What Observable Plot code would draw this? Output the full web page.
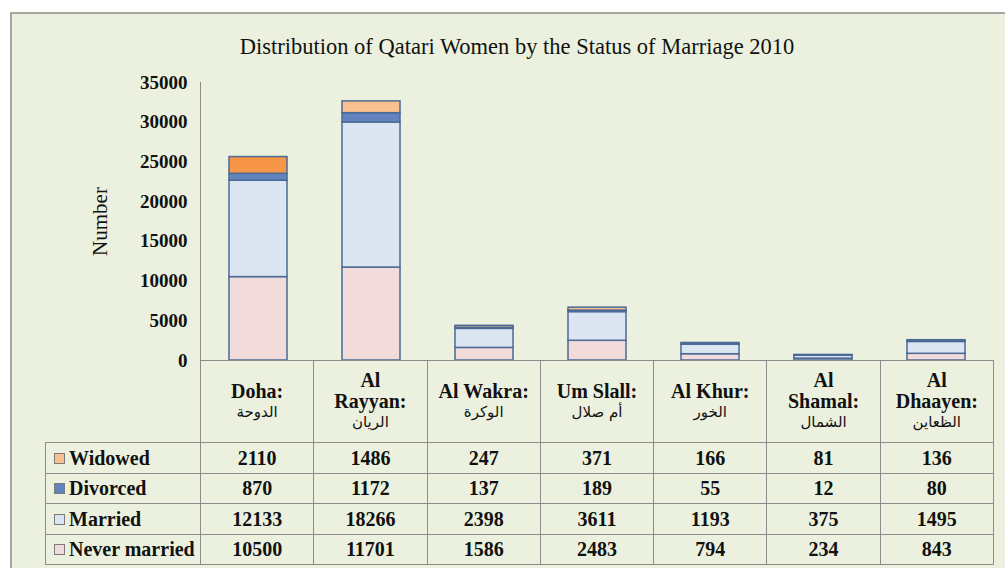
<!DOCTYPE html>
<html>
<head>
<meta charset="utf-8">
<script src="https://cdn.jsdelivr.net/npm/d3@7"></script>
<script src="https://cdn.jsdelivr.net/npm/@observablehq/plot@0.6"></script>
<style>
  body { margin: 0; background: #ffffff; width: 1005px; height: 568px; overflow: hidden; position: relative;
         font-family: "Liberation Serif", "Times New Roman", serif; color: #111; }
  #frame { position: absolute; left: 10px; top: 12px; width: 1010px; height: 570px; background: #EBF1DE;
           border: 2px solid #a4a79d; box-sizing: border-box; }
  #title { position: absolute; left: 0; width: 1034px; top: 34px; text-align: center; font-size: 22.5px; color: #111; }
  #chart { position: absolute; left: 0; top: 0; }
  #chart svg { overflow: visible; }
  g[aria-label="y-axis tick label"] text { font-weight: bold; font-size: 19px; fill: #111; }
  table { position: absolute; left: 45px; top: 360px; border-collapse: collapse; table-layout: fixed;
          font-family: "Liberation Serif", "Times New Roman", serif; }
  td { border: 1px solid #8c8c8c; padding: 0; text-align: center; font-weight: bold; font-size: 20px; color: #111;
       font-family: "Liberation Serif", "Times New Roman", serif; }
  td.corner { border-top: none; border-left: none; }
  tr.head td { height: 81px; vertical-align: middle; line-height: 21px; }
  tr.row td { height: 29.5px; line-height: 20px; }
  td.lab { text-align: left; padding-left: 8px; white-space: nowrap; }
  .sw { display: inline-block; width: 9px; height: 9px; border: 1px solid #7a7a7a; margin-right: 4px; vertical-align: 1px; }
  .ar { font-family: "DejaVu Sans", sans-serif; font-weight: normal; font-size: 15px; }
</style>
</head>
<body>
<div id="frame"></div>
<div id="title">Distribution of Qatari Women by the Status of Marriage 2010</div>
<div id="chart"></div>
<script>
const districts = ["Doha", "Al Rayyan", "Al Wakra", "Um Slall", "Al Khur", "Al Shamal", "Al Dhaayen"];
const districtLines = [["Doha:"], ["Al", "Rayyan:"], ["Al Wakra:"], ["Um Slall:"], ["Al Khur:"], ["Al", "Shamal:"], ["Al", "Dhaayen:"]];
const districtsArabic = ["الدوحة", "الريان", "الوكرة", "أم صلال", "الخور", "الشمال", "الظعاين"];
const statuses = ["Never married", "Married", "Divorced", "Widowed"];
const neverMarried = [10500, 11701, 1586, 2483, 794, 234, 843];
const married = [12133, 18266, 2398, 3611, 1193, 375, 1495];
const divorced = [870, 1172, 137, 189, 55, 12, 80];
const widowed = [2110, 1486, 247, 371, 166, 81, 136];
const yTicks = [0, 5000, 10000, 15000, 20000, 25000, 30000, 35000];
const tableOrder = ["Widowed", "Divorced", "Married", "Never married"];

const colors = { "Never married": "#F2DCDB", "Married": "#DCE6F2", "Divorced": "#6384BF", "Widowed": "#FAC090" };
const highlight = { district: "Doha", status: "Widowed", color: "#F79646" };

const seriesValues = { "Never married": neverMarried, "Married": married, "Divorced": divorced, "Widowed": widowed };
const data = [];
statuses.forEach(s => districts.forEach((d, j) => data.push({ district: d, status: s, value: seriesValues[s][j] })));

const fillOf = d => (d.district === highlight.district && d.status === highlight.status) ? highlight.color : colors[d.status];

const chart = Plot.plot({
  width: 1005, height: 361,
  marginLeft: 200, marginRight: 12, marginTop: 82, marginBottom: 1,
  style: { background: "transparent", fontFamily: "'Liberation Serif', serif", color: "#111", overflow: "visible" },
  x: { domain: districts, paddingInner: 0.49, paddingOuter: 0.245, axis: null },
  y: { domain: [0, 35000], axis: null },
  marks: [
    Plot.barY(data, Plot.stackY({ x: "district", y: "value", fill: fillOf, stroke: "#4B6A95", strokeWidth: 1.5 })),
    Plot.axisY({ ticks: yTicks, tickSize: 0, tickPadding: 13, tickFormat: d => String(d), label: null }),
    Plot.frame({ anchor: "left", stroke: "#8c8c8c" }),
    Plot.ruleY([0], { stroke: "#8c8c8c" }),
    Plot.text(["Number"], { frameAnchor: "left", textAnchor: "middle", dx: -100, rotate: -90, fontSize: 21, fill: "#111" })
  ]
});
document.getElementById("chart").appendChild(chart);

// table below the plot
const colW = (1005 - 12 - 200) / districts.length;
const table = d3.select("body").append("table");
const cg = table.append("colgroup");
cg.append("col").style("width", "155px");
districts.forEach(() => cg.append("col").style("width", colW + "px"));
const head = table.append("tr").attr("class", "head");
head.append("td").attr("class", "corner");
districts.forEach((d, j) => {
  const td = head.append("td");
  districtLines[j].forEach(l => td.append("div").text(l));
  td.append("div").attr("class", "ar").attr("dir", "rtl").text(districtsArabic[j]);
});
tableOrder.forEach(s => {
  const tr = table.append("tr").attr("class", "row");
  const lab = tr.append("td").attr("class", "lab");
  lab.append("span").attr("class", "sw").style("background", colors[s]);
  lab.append("span").text(s);
  seriesValues[s].forEach(v => tr.append("td").text(v));
});
</script>
</body>
</html>
